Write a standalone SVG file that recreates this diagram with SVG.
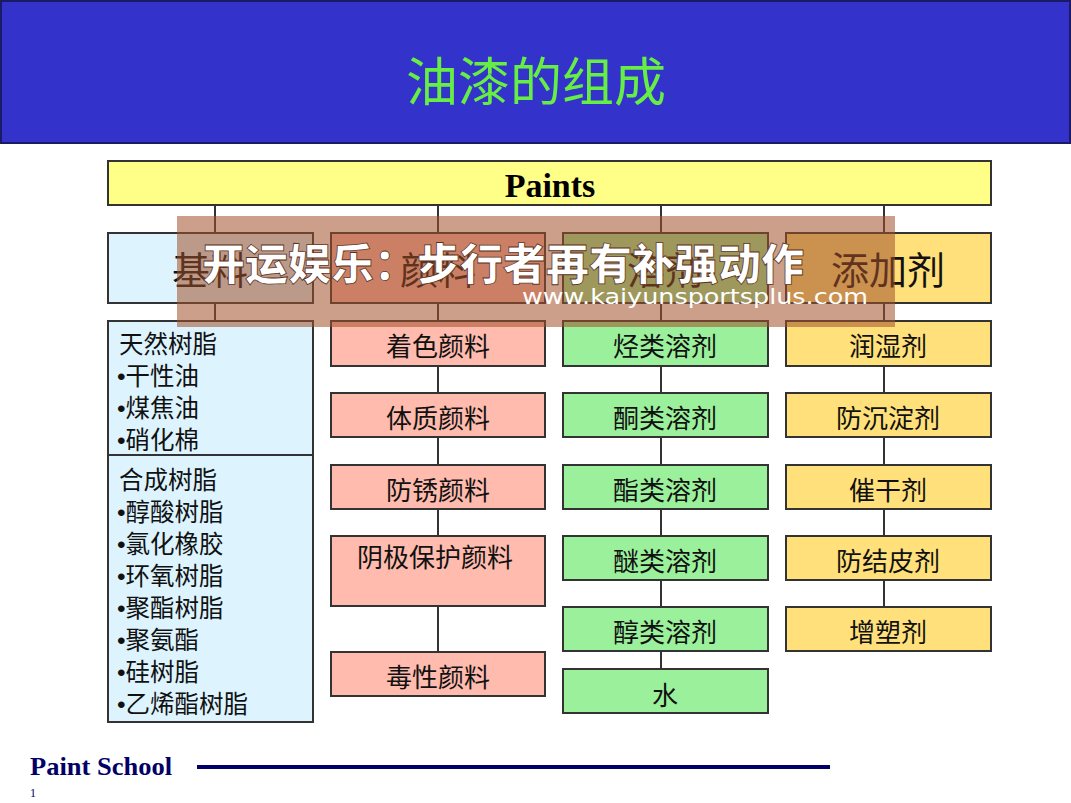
<svg xmlns="http://www.w3.org/2000/svg" width="1071" height="803" viewBox="0 0 1071 803">
<style>
.box{stroke:#333;stroke-width:2}
.blue{fill:#DDF4FF}.pink{fill:#FFBBAD}.green{fill:#9BF09B}.yellow{fill:#FFE07A}
.t{font-family:"Noto Sans CJK SC","Noto Sans",sans-serif;font-size:26px;fill:#111;text-anchor:middle}
.tl{font-family:"Noto Sans CJK SC","Noto Sans",sans-serif;font-size:24.5px;fill:#111}
.b{font-family:"Liberation Sans",sans-serif}
.h{font-family:"Noto Sans CJK SC","Noto Sans",sans-serif;font-size:38px;fill:#111;text-anchor:middle}
.ln{stroke:#333;stroke-width:2;fill:none}
</style>
<rect width="1071" height="803" fill="#fff"/>
<g id="header">
<rect x="1" y="1" width="1069" height="142" fill="#3333CC" stroke="#1a1a66" stroke-width="2"/>
<text x="536" y="101" font-family="Noto Sans CJK SC,sans-serif" font-size="52" fill="#66EE44" text-anchor="middle">油漆的组成</text>
</g>
<g id="connectors">
<path class="ln" d="M215 205V233M438 205V233M661 205V233M884 205V233"/>
<path class="ln" d="M215 303V321M438 303V652M661 303V669M884 303V607"/>
</g>
<g id="paints"><rect class="box" x="108" y="161" width="883" height="44" fill="#FFFF88"/>
<text x="550" y="197" font-family="Liberation Serif,serif" font-weight="bold" font-size="34" text-anchor="middle" fill="#000">Paints</text></g>
<g id="col1-head"><rect class="box blue" x="108" y="233" width="205" height="70"/><text class="h" x="210" y="284">基料</text></g>
<g id="col2-head"><rect class="box pink" x="331" y="233" width="214" height="70"/><text class="h" x="438" y="284">颜料</text></g>
<g id="col3-head"><rect class="box green" x="563" y="233" width="205" height="70"/><text class="h" x="665" y="284">溶剂</text></g>
<g id="col4-head"><rect class="box yellow" x="786" y="233" width="205" height="70"/><text class="h" x="888" y="284">添加剂</text></g>
<g id="natural"><rect class="box blue" x="108" y="321" width="205" height="134"/>
<text class="tl" x="119" y="353">天然树脂</text><text class="tl" x="117" y="385"><tspan class="b">•</tspan>干性油</text><text class="tl" x="117" y="417"><tspan class="b">•</tspan>煤焦油</text><text class="tl" x="117" y="449"><tspan class="b">•</tspan>硝化棉</text></g>
<g id="synthetic"><rect class="box blue" x="108" y="455" width="205" height="267"/>
<text class="tl" x="119" y="489">合成树脂</text><text class="tl" x="117" y="521"><tspan class="b">•</tspan>醇酸树脂</text><text class="tl" x="117" y="553"><tspan class="b">•</tspan>氯化橡胶</text><text class="tl" x="117" y="585"><tspan class="b">•</tspan>环氧树脂</text><text class="tl" x="117" y="617"><tspan class="b">•</tspan>聚酯树脂</text><text class="tl" x="117" y="649"><tspan class="b">•</tspan>聚氨酯</text><text class="tl" x="117" y="681"><tspan class="b">•</tspan>硅树脂</text><text class="tl" x="117" y="713"><tspan class="b">•</tspan>乙烯酯树脂</text></g>
<g id="p1"><rect class="box pink" x="331" y="321" width="214" height="45"/><text class="t" x="438" y="356">着色颜料</text></g>
<g id="p2"><rect class="box pink" x="331" y="393" width="214" height="44"/><text class="t" x="438" y="428">体质颜料</text></g>
<g id="p3"><rect class="box pink" x="331" y="465" width="214" height="44"/><text class="t" x="438" y="500">防锈颜料</text></g>
<g id="p4"><rect class="box pink" x="331" y="536" width="214" height="70"/><text class="t" x="435" y="567">阴极保护颜料</text></g>
<g id="p5"><rect class="box pink" x="331" y="652" width="214" height="44"/><text class="t" x="438" y="687">毒性颜料</text></g>
<g id="s1"><rect class="box green" x="563" y="321" width="205" height="45"/><text class="t" x="665" y="356">烃类溶剂</text></g>
<g id="s2"><rect class="box green" x="563" y="393" width="205" height="44"/><text class="t" x="665" y="428">酮类溶剂</text></g>
<g id="s3"><rect class="box green" x="563" y="465" width="205" height="44"/><text class="t" x="665" y="500">酯类溶剂</text></g>
<g id="s4"><rect class="box green" x="563" y="536" width="205" height="44"/><text class="t" x="665" y="571">醚类溶剂</text></g>
<g id="s5"><rect class="box green" x="563" y="607" width="205" height="44"/><text class="t" x="665" y="642">醇类溶剂</text></g>
<g id="s6"><rect class="box green" x="563" y="669" width="205" height="44"/><text class="t" x="665" y="705">水</text></g>
<g id="a1"><rect class="box yellow" x="786" y="321" width="205" height="45"/><text class="t" x="888" y="356">润湿剂</text></g>
<g id="a2"><rect class="box yellow" x="786" y="393" width="205" height="44"/><text class="t" x="888" y="428">防沉淀剂</text></g>
<g id="a3"><rect class="box yellow" x="786" y="465" width="205" height="44"/><text class="t" x="888" y="500">催干剂</text></g>
<g id="a4"><rect class="box yellow" x="786" y="536" width="205" height="44"/><text class="t" x="888" y="571">防结皮剂</text></g>
<g id="a5"><rect class="box yellow" x="786" y="607" width="205" height="44"/><text class="t" x="888" y="642">增塑剂</text></g>
<g id="footer">
<text x="30" y="775" font-family="Liberation Serif,serif" font-weight="bold" font-size="25" fill="#000066" textLength="142" lengthAdjust="spacingAndGlyphs">Paint School</text>
<line x1="197" y1="767" x2="830" y2="767" stroke="#000066" stroke-width="4"/>
<text x="30" y="797" font-family="Liberation Serif,serif" font-size="12" fill="#000066">1</text>
</g>
<g id="watermark">
<rect x="177" y="216" width="718" height="111" fill="#A0502A" fill-opacity="0.55"/>
<text x="503" y="280" font-family="Noto Sans CJK SC,sans-serif" font-weight="900" font-size="43" fill="#fff" stroke="#5a3020" stroke-width="0.8" text-anchor="middle">开运娱乐：步行者再有补强动作</text>
<text x="522" y="304" font-family="DejaVu Sans,sans-serif" font-size="21" fill="#fff" textLength="346" lengthAdjust="spacingAndGlyphs">www.kaiyunsportsplus.com</text>
</g>
</svg>
